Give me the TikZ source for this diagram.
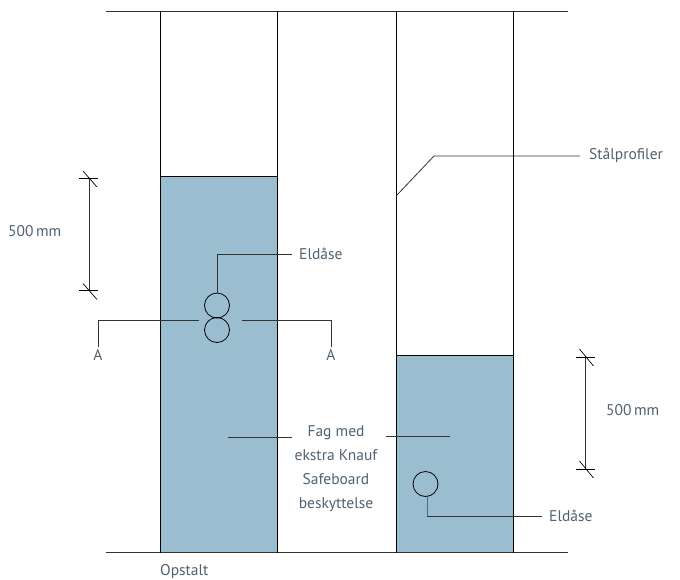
\documentclass[tikz,border=0pt]{standalone}
\usepackage{fontspec}
\setmainfont{PT Sans}
\usepackage{xcolor}
\usetikzlibrary{positioning, calc}
\definecolor{panelblue}{HTML}{9BBDD0}
\definecolor{labelgrey}{HTML}{4F6272}
\definecolor{leaderblue}{HTML}{3A6E96}
\tikzset{every picture/.style={x=1pt, y=-1pt}}
\tikzset{wall/.style={draw=black, line width=.9pt}}
\tikzset{leader/.style={draw=black!80, line width=.8pt}}
\tikzset{tick/.style={draw=black, line width=.7pt}}
\tikzset{lbl/.style={text=labelgrey, font=\fontsize{15.5}{24}\selectfont, inner sep=0pt}}
\tikzset{socket/.style={circle, draw=black, line width=.8pt, minimum size=25pt, inner sep=0pt}}

\begin{document}
\begin{tikzpicture}
      \useasboundingbox (0,0) rectangle (680,579);

      % filled bays
      \fill[panelblue] (160,176) rectangle (277.5,552.5);
      \fill[panelblue] (396,355) rectangle (513,552.5);
      \draw[wall] (160,176) -- (277.5,176);
      \draw[wall] (396,355) -- (513,355);

      % walls
      \coordinate (top0) at (106,11);
      \coordinate (top1) at (568,11);
      \coordinate (bot0) at (106,552.5);
      \coordinate (bot1) at (568,552.5);
      \draw[wall, draw=black!80] (top0) -- (top1);
      \draw[wall, draw=black!80] (bot0) -- (bot1);
      \foreach \x/\n in {160/a, 277.5/b, 396/c, 513/d} {
        \coordinate (\n0) at (\x,11);
        \coordinate (\n1) at (\x,552.5);
        \draw[wall] (\n0) -- (\n1);
      }

      % sockets
      \node[socket] (s0) at (217,305.5) {};
      \node[socket] (s1) at (217,330) {};
      \node[socket] (s2) at (425.5,484) {};

      % left dimension
      \coordinate (dl0) at (89,178);
      \coordinate (dl1) at (89,290.5);
      \draw[leader] (dl0) -- (dl1);
      \foreach \n in {dl0, dl1} {
        \draw[tick] ($(\n)-(10,0)$) -- ($(\n)+(9,0)$);
        \draw[tick] ($(\n)+(-6,-7)$) -- ($(\n)+(8,9)$);
      }
      \node[lbl, anchor=west] (dim0) at (8,231) {500\,mm};

      % right dimension
      \coordinate (dr0) at (585.5,357);
      \coordinate (dr1) at (585.5,469);
      \draw[leader] (dr0) -- (dr1);
      \foreach \n in {dr0, dr1} {
        \draw[tick] ($(\n)-(10,0)$) -- ($(\n)+(9,0)$);
        \draw[tick] ($(\n)+(-6,-8)$) -- ($(\n)+(8,9)$);
      }
      \node[lbl, anchor=west] (dim1) at (606,410) {500\,mm};

      % section marks
      \node[lbl] (secl) at (98,355) {A};
      \node[lbl] (secr) at (331,355) {A};
      \coordinate (cutl) at (199,320);
      \coordinate (cutr) at (242,320);
      \draw[leader] (secl.north) ++(0,-2) |- (cutl);
      \draw[leader] (secr.north) ++(0,-2) |- (cutr);

      % labels with leaders
      \node[lbl, anchor=west] (eld0) at (299,254) {Eldåse};
      \coordinate (eld0end) at (292,254);
      \draw[leader] (s0.north) |- (eld0end);

      \node[lbl, anchor=west] (eld1) at (549,515.5) {Eldåse};
      \coordinate (eld1end) at (542,516);
      \coordinate (eld1knee) at (427,516);
      \draw[leader, draw=leaderblue] (427,496.5) -- (eld1knee);
      \draw[leader] (eld1knee) -- (eld1end);

      \node[lbl, anchor=west] (steel) at (589,155.5) {Stålprofiler};
      \coordinate (steel0) at (397,195);
      \coordinate (steel1) at (434,156);
      \coordinate (steel2) at (580,156);
      \draw[leader] (steel0) -- (steel1) -- (steel2);

      \node[lbl, align=center, anchor=north] (bay) at (336,425) {Fag med\\ekstra Knauf\\Safeboard\\beskyttelse};
      \coordinate (bayl0) at (228,437);
      \coordinate (bayl1) at (292,437);
      \coordinate (bayr0) at (386,436);
      \coordinate (bayr1) at (450,436);
      \draw[leader] (bayl0) -- (bayl1);
      \draw[leader] (bayr0) -- (bayr1);

      \node[lbl, anchor=west] (view) at (160,572) {Opstalt};

    \end{tikzpicture}
\end{document}
